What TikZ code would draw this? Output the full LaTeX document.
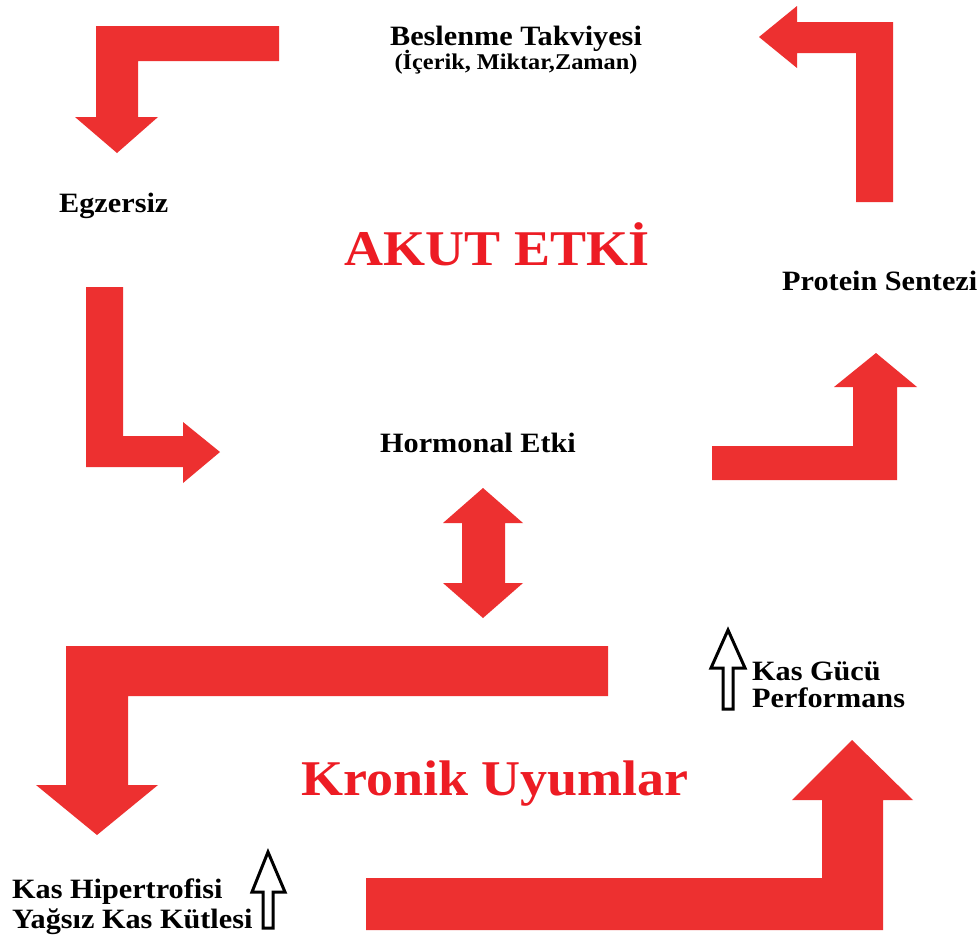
\documentclass[tikz,border=0pt]{standalone}
\usepackage{fontspec}
\setmainfont{Liberation Serif}[FakeStretch=1.08]
\definecolor{arrred}{RGB}{237,48,48}
\definecolor{titred}{RGB}{237,28,36}
\tikzset{
  blockarrow/.style={fill=arrred, draw=none},
  hollowarrow/.style={draw=black, fill=white, line width=3bp, line join=miter},
  lbl/.style={inner sep=0pt, font=\bfseries\fontsize{28bp}{30bp}\selectfont, text=black},
  sublbl/.style={inner sep=0pt, font=\bfseries\fontsize{22.5bp}{26bp}\selectfont, text=black},
  title/.style={inner sep=0pt, text=titred, font=\bfseries\fontsize{50bp}{56bp}\selectfont},
}
\begin{document}
\begin{tikzpicture}[x=1bp, y=-1bp]
\useasboundingbox (0,0) rectangle (978,941);
\fill[white] (0,0) rectangle (978,941);

% top-left arrow (down)
\fill[blockarrow] (279,26) -- (96,26) -- (96,117) -- (75,117) -- (117,153) -- (158,117) -- (138,117) -- (138,61) -- (279,61) -- cycle;
% top-right arrow (left)
\fill[blockarrow] (893,202) -- (893,22) -- (797,22) -- (797,6) -- (759,37) -- (797,68) -- (797,53) -- (856,53) -- (856,202) -- cycle;
% left middle arrow (right)
\fill[blockarrow] (86,287) -- (123,287) -- (123,436) -- (183,436) -- (183,422) -- (220,452) -- (183,483) -- (183,467) -- (86,467) -- cycle;
% right middle arrow (up)
\fill[blockarrow] (712,446) -- (853,446) -- (853,387) -- (834,387) -- (876,353) -- (917,387) -- (897,387) -- (897,480) -- (712,480) -- cycle;
% double arrow
\fill[blockarrow] (462,523) -- (443,523) -- (483,488) -- (523,523) -- (505,523) -- (505,583) -- (523,583) -- (483,618) -- (443,583) -- (462,583) -- cycle;
% bottom-left big arrow (down)
\fill[blockarrow] (608,646) -- (66,646) -- (66,785) -- (36,785) -- (97,835) -- (158,785) -- (128,785) -- (128,696) -- (608,696) -- cycle;
% bottom-right big arrow (up)
\fill[blockarrow] (366,878) -- (822,878) -- (822,800) -- (792,800) -- (852,740) -- (913,800) -- (883,800) -- (883,930) -- (366,930) -- cycle;

% hollow arrows
\draw[hollowarrow] (723,709) -- (723,668) -- (711,668) -- (728,630) -- (745,668) -- (733,668) -- (733,709) -- cycle;
\draw[hollowarrow] (263,928) -- (263,892) -- (252,892) -- (268,852) -- (285,892) -- (273,892) -- (273,928) -- cycle;

% texts
\node[lbl, anchor=base] (besl) at (516,45) {Beslenme Takviyesi};
\node[sublbl, anchor=base] (icerik) at (516,69) {(İçerik, Miktar,Zaman)};
\node[lbl, anchor=base west] (egz) at (59,212) {Egzersiz};
\node[title, anchor=base] (akut) at (497,265) {AKUT ETKİ};
\node[lbl, anchor=base west] (prot) at (782,290) {Protein Sentezi};
\node[lbl, anchor=base] (horm) at (478,452) {Hormonal Etki};
\node[lbl, anchor=base west] (gucu) at (752,680) {Kas Gücü};
\node[lbl, anchor=base west] (perf) at (752,707) {Performans};
\node[title, anchor=base] (kron) at (495,795) {Kronik Uyumlar};
\node[lbl, anchor=base west] (hip) at (12,898) {Kas Hipertrofisi};
\node[lbl, anchor=base west] (yag) at (12,928) {Yağsız Kas Kütlesi};
\end{tikzpicture}
\end{document}
